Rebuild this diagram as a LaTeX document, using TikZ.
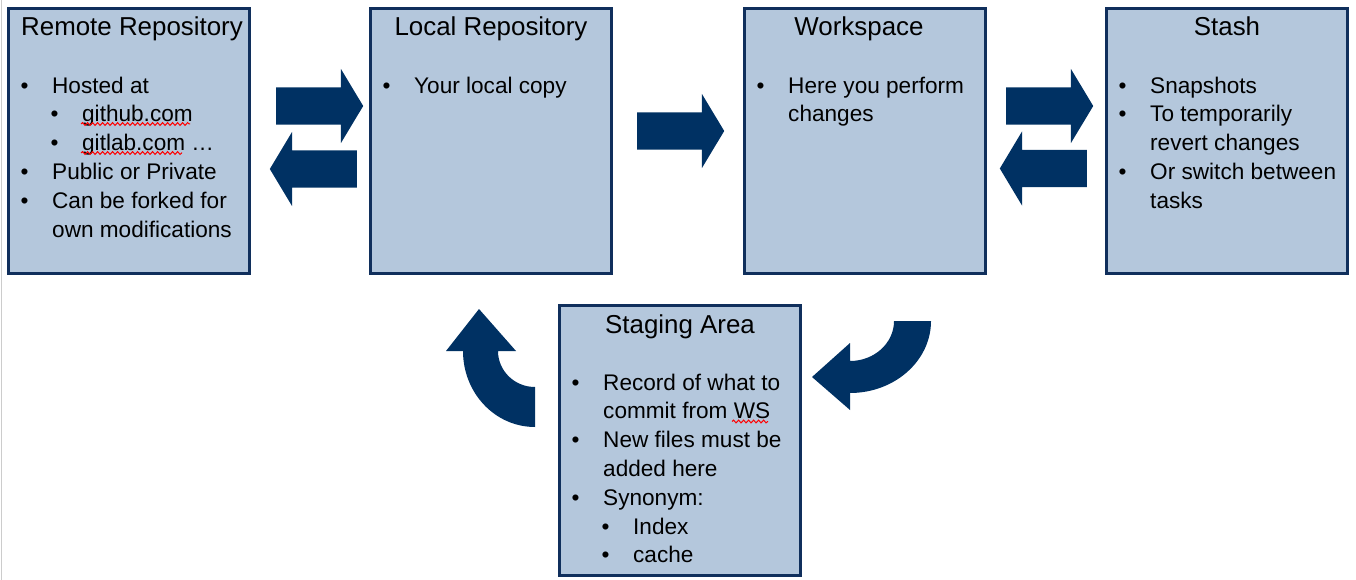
\documentclass[tikz,border=0pt]{standalone}
\usepackage{fontspec}
\setmainfont{Liberation Sans}
\usetikzlibrary{positioning,shapes.arrows,decorations.pathmorphing}

\definecolor{boxfill}{RGB}{180,199,220}
\definecolor{boxline}{RGB}{16,47,92}
\definecolor{arrowblue}{RGB}{0,49,99}

\newcommand\bul{\strut\makebox[31.5pt][l]{\textbullet}}
\newcommand\subbul{\hspace*{30pt}\bul}
\newcommand\cont{\strut\hspace*{31.5pt}}

\tikzset{
  area/.style={draw=boxline,fill=boxfill,line width=3pt,minimum width=241pt,
    minimum height=265pt,inner sep=0pt,outer sep=1.5pt},
  title/.style={anchor=base,inner sep=0pt},
  body/.style={anchor=north west,align=left,inner sep=0pt,
    font=\fontsize{22.6}{28.8}\selectfont},
  flow/.style={single arrow,fill=arrowblue,minimum height=87pt,minimum width=74pt,
    inner xsep=0pt,inner ysep=18.5pt,single arrow head extend=18.5pt,
    single arrow tip angle=118,anchor=tail},
  spell/.style={draw=red,line width=1pt,decorate,
    decoration={snake,amplitude=1.4pt,segment length=5pt}}
}

\begin{document}
\begin{tikzpicture}[x=1pt,y=-1pt,font=\fontsize{25.9}{28.8}\selectfont]
  \useasboundingbox (0,0) rectangle (1356,580);
  \draw[gray!40,line width=1.5pt] (1.5,0) -- (1.5,580);

  % the five areas
  \node[area] (remote) at (129,141) {};
  \node[area,right=118pt of remote] (local) {};
  \node[area,right=130pt of local] (work) {};
  \node[area,right=118pt of work] (stash) {};
  \node[area,minimum height=270pt] (staging) at (680,440.5) {};

  \node[title,xshift=3pt] (remotetitle) at ([yshift=-29pt]remote.north) {Remote Repository};
  \node[title] (localtitle) at ([yshift=-29pt]local.north) {Local Repository};
  \node[title,xshift=-6pt] (worktitle) at ([yshift=-29pt]work.north) {Workspace};
  \node[title] (stashtitle) at ([yshift=-29pt]stash.north) {Stash};
  \node[title] (stagingtitle) at ([yshift=-29pt]staging.north) {Staging Area};

  \node[body] (remotetext) at ([xshift=13.5pt,yshift=-65.8pt]remote.north west)
    {\bul Hosted at\\ \subbul github.com\\ \subbul gitlab.com …\\
     \bul Public or Private\\ \bul Can be forked for\\ \cont own modifications};
  \node[body] (localtext) at ([xshift=13.5pt,yshift=-65.8pt]local.north west)
    {\bul Your local copy};
  \node[body] (worktext) at ([xshift=13.5pt,yshift=-65.8pt]work.north west)
    {\bul Here you perform\\ \cont changes};
  \node[body] (stashtext) at ([xshift=13.5pt,yshift=-65.8pt]stash.north west)
    {\bul Snapshots\\ \bul To temporarily\\ \cont revert changes\\
     \bul Or switch between\\ \cont tasks};
  \node[body] (stagingtext) at ([xshift=13.5pt,yshift=-65.8pt]staging.north west)
    {\bul Record of what to\\ \cont commit from WS\\ \bul New files must be\\
     \cont added here\\ \bul Synonym:\\ \subbul Index\\ \subbul cache};

  % spell checker marks
  \draw[spell] (81,124) -- (190,124);
  \draw[spell] (81,153) -- (182,153);
  \draw[spell] (732,421.5) -- (768,421.5);

  % straight arrows
  \node[flow] (clone) at ([xshift=25pt,yshift=35pt]remote.east) {};
  \node[flow,shape border rotate=180] (push) at ([xshift=-12pt,yshift=-28pt]local.west) {};
  \node[flow] (checkout) at ([xshift=24pt,yshift=10pt]local.east) {};
  \node[flow] (save) at ([xshift=19pt,yshift=35pt]work.east) {};
  \node[flow,shape border rotate=180] (pop) at ([xshift=-18pt,yshift=-27.5pt]stash.west) {};

  % curved arrows
  \fill[arrowblue] (498,351) -- (516,351) -- (479,309) -- (446,351) -- (463,351)
    .. controls (463,393) and (495,427) .. (535,427) -- (535,387)
    .. controls (514.6,387) and (498,370.9) .. (498,351) -- cycle;
  \fill[arrowblue] (894,321) -- (931,321)
    .. controls (931,360.7) and (894.7,393) .. (850,393) -- (850,410) -- (812,377)
    -- (850,343) -- (850,361)
    .. controls (874.3,361) and (894,343.1) .. (894,321) -- cycle;
\end{tikzpicture}
\end{document}
